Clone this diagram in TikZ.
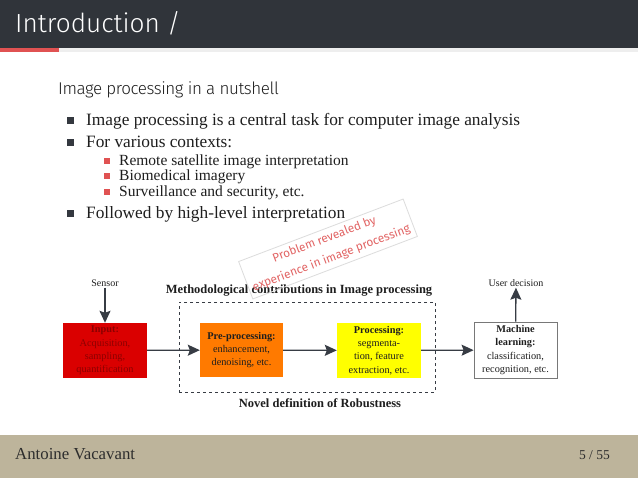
\documentclass[tikz,border=0pt]{standalone}
\usepackage{fontspec}
\setmainfont{Liberation Serif}
\newfontfamily\fira{Fira Sans}
\IfFontExistsTF{Fira Sans Light}{\newfontfamily\firalight{Fira Sans Light}}{\newfontfamily\firalight{Fira Sans}}
\usetikzlibrary{arrows.meta}
\definecolor{hdr}{RGB}{48,52,58}
\definecolor{accent}{RGB}{224,82,82}
\definecolor{pbar}{RGB}{238,238,238}
\definecolor{txt}{RGB}{30,30,30}
\definecolor{bul}{RGB}{52,56,63}
\definecolor{arrc}{RGB}{55,60,68}
\definecolor{inred}{RGB}{218,0,0}
\definecolor{indark}{RGB}{140,0,0}
\definecolor{orng}{RGB}{255,122,0}
\definecolor{yell}{RGB}{255,255,0}
\definecolor{mlgray}{RGB}{120,120,120}
\definecolor{stampgray}{RGB}{220,220,220}
\definecolor{stampred}{RGB}{226,100,100}
\definecolor{foot}{RGB}{189,180,155}
\definecolor{foottxt}{RGB}{45,45,45}
\tikzset{
  bigbul/.style={fill=bul, inner sep=0pt, minimum size=7pt, anchor=south west},
  smallbul/.style={fill=accent, inner sep=0pt, minimum size=6pt, anchor=south west},
  btext/.style={anchor=base west, inner sep=0pt, text=txt, font=\fontsize{17.3}{20}\selectfont},
  stext/.style={anchor=base west, inner sep=0pt, text=txt, font=\fontsize{15.5}{18}\selectfont},
  procbox/.style={rectangle, align=center, inner sep=0pt, text=txt, font=\fontsize{10.3}{13.4}\selectfont},
  arr/.style={draw=arrc, line width=1.3pt, -{Stealth[length=12pt,width=11pt,inset=2pt]}},
  lbl/.style={inner sep=1pt, text=txt, font=\fontsize{10}{12}\selectfont},
  biglbl/.style={inner sep=0pt, text=txt, font=\bfseries\fontsize{12.5}{14}\selectfont},
}
\begin{document}
\begin{tikzpicture}[x=1pt,y=-1pt]
\useasboundingbox (0,0) rectangle (638,479);
\fill[white] (0,0) rectangle (638,479);
% header
\fill[hdr] (0,0) rectangle (638,48);
\fill[pbar] (0,48) rectangle (638,52);
\fill[accent] (0,48) rectangle (59,52);
\node[anchor=base west, inner sep=0pt, text=white, font=\firalight\fontsize{26.2}{30}\selectfont] (title) at (15,32) {Introduction /};
\node[anchor=base west, inner sep=0pt, text=txt, font=\firalight\fontsize{17}{20}\selectfont\addfontfeature{LetterSpace=-2.5}] (sub) at (58,94) {Image processing in a nutshell};
% bullets
\node[bigbul] (b1) at (67,124) {};
\node[btext] (t1) at (86,125) {Image processing is a central task for computer image analysis};
\node[bigbul] (b2) at (67,146) {};
\node[btext] (t2) at (86,147) {For various contexts:};
\node[smallbul] (s1) at (104,164) {};
\node[stext] (u1) at (119,165) {Remote satellite image interpretation};
\node[smallbul] (s2) at (104,179) {};
\node[stext] (u2) at (119,180) {Biomedical imagery};
\node[smallbul] (s3) at (104,195) {};
\node[stext] (u3) at (119,196) {Surveillance and security, etc.};
\node[bigbul] (b3) at (67,217) {};
\node[btext] (t3) at (86,218) {Followed by high-level interpretation};
% diagram
\node[draw=arrc, dashed, line width=0.8pt, minimum width=256pt, minimum height=90pt, inner sep=0pt] (frame) at (307,347) {};
\node[biglbl] (meth) at (299,291) {Methodological contributions in Image processing};
\node[biglbl] (novel) at (320,403) {Novel definition of Robustness};
\node[procbox, fill=inred, text=indark, minimum width=84pt, minimum height=55pt] (input) at (105,350.5) {\textbf{Input:}\\Acquisition,\\sampling,\\quantification};
\node[procbox, fill=orng, minimum width=83pt, minimum height=54pt] (pre) at (241.5,350) {\textbf{Pre-processing:}\\enhancement,\\denoising, etc.};
\node[procbox, fill=yell, minimum width=84pt, minimum height=55pt] (proc) at (379,350.5) {\textbf{Processing:}\\segmenta-\\tion, feature\\extraction, etc.};
\node[procbox, fill=white, draw=mlgray, line width=0.8pt, minimum width=83pt, minimum height=56pt] (ml) at (515.5,350) {\textbf{Machine}\\\textbf{learning:}\\classification,\\recognition, etc.};
\node[lbl] (sensor) at (105,283) {Sensor};
\node[lbl] (user) at (516,283) {User decision};
\draw[arr] (sensor) -- (input);
\draw[arr] (input) -- (pre);
\draw[arr] (pre) -- (proc);
\draw[arr] (proc) -- (ml);
\draw[arr] (ml) -- (user);
% stamp
\node[draw=stampgray, line width=0.8pt, rotate=20.8, minimum width=176pt, minimum height=40pt, inner sep=0pt, align=center, text=stampred, font=\fira\fontsize{11.8}{20}\selectfont] (stamp) at (328,249) {Problem revealed by\\experience in image processing};
% footer
\fill[foot] (0,435) rectangle (638,478);
\node[anchor=base west, inner sep=0pt, text=foottxt, font=\fontsize{16.8}{20}\selectfont] (author) at (15,459) {Antoine Vacavant};
\node[anchor=base east, inner sep=0pt, text=foottxt, font=\fontsize{13.5}{16}\selectfont] (page) at (610,459) {5 / 55};
\end{tikzpicture}
\end{document}
